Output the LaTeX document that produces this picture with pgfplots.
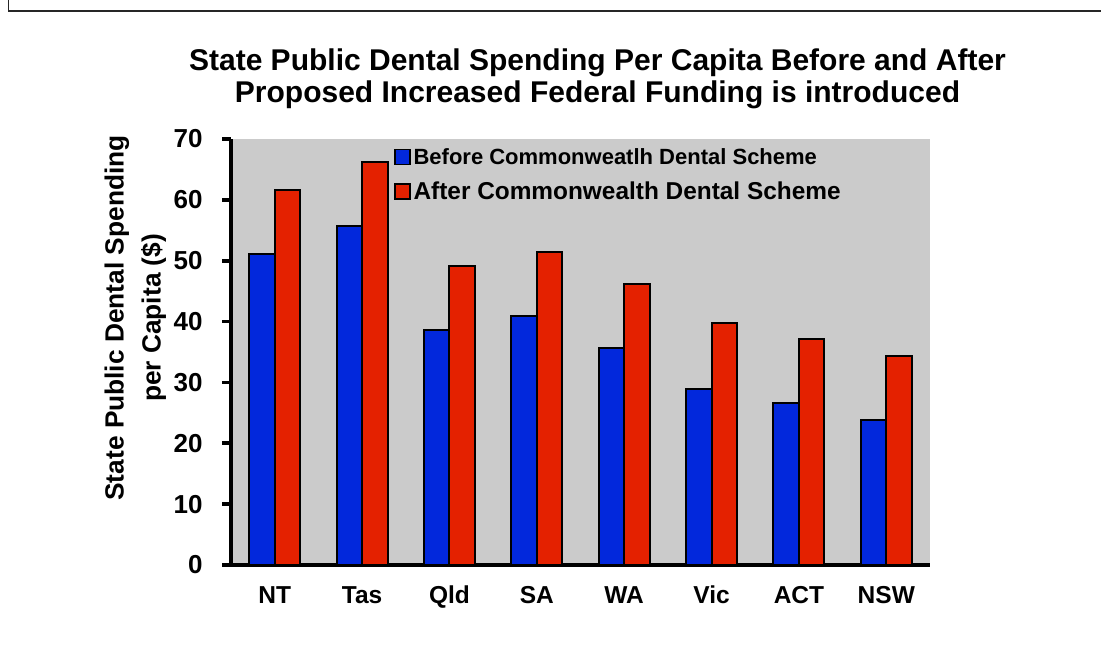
\documentclass[border=0pt]{standalone}
\usepackage{fontspec}
\setmainfont{Liberation Sans}
\usepackage{pgfplots}
\pgfplotsset{compat=1.18}
\definecolor{barblue}{RGB}{2,40,220}
\definecolor{barred}{RGB}{228,33,0}
\definecolor{bggray}{RGB}{203,203,203}
\begin{document}
\begin{tikzpicture}[x=1pt,y=1pt]
\useasboundingbox (0,0) rectangle (1101,657);
\fill[white] (0,0) rectangle (1101,657);
\draw[line width=1.5pt, black!85] (8.5,670) -- (8.5,646) -- (1110,646);
\begin{axis}[
  at={(231pt,92pt)}, anchor=south west,
  scale only axis, width=699pt, height=426pt,
  xmin=-0.5, xmax=7.5, ymin=0, ymax=70,
  axis background/.style={fill=bggray},
  axis x line*=bottom, axis y line*=left,
  axis line style={line width=3.6pt, black},
  ybar=0pt, bar width=25.5pt,
  xtick={0,1,2,3,4,5,6,7},
  xticklabels={NT,Tas,Qld,SA,WA,Vic,ACT,NSW},
  x tick style={draw=none},
  ytick={0,10,20,30,40,50,60,70},
  y tick style={line width=3.6pt, black},
  tick align=outside, major tick length=9pt,
  /pgf/number format/assume math mode=true,
  yticklabel style={font=\fontsize{26}{26}\selectfont\bfseries, xshift=-16pt},
  xticklabel style={font=\fontsize{24.5}{24.5}\selectfont\bfseries, yshift=-19pt, text height=0.72em, text depth=0.22em},
  ylabel={State Public Dental Spending\\per Capita (\$)},
  ylabel style={at={(axis description cs:-0.137,0.58)}, anchor=center, align=center, font=\fontsize{26.3}{37}\selectfont\bfseries},
  title={State Public Dental Spending Per Capita Before and After\\Proposed Increased Federal Funding is introduced},
  title style={at={(axis description cs:0.5243,1)}, anchor=north, yshift=84.5pt, inner sep=0pt, align=center, font=\fontsize{30}{32}\selectfont\bfseries},
  legend image code/.code={\draw[#1,/tikz/.cd,line width=1.5pt] (0pt,-7.5pt) rectangle (15pt,7.5pt);},
  legend style={at={(axis description cs:0.233,0.983)}, anchor=north west, draw=none, fill=none, inner sep=0pt, row sep=12pt, font=\bfseries, /tikz/every even column/.append style={column sep=0pt}, /tikz/every odd column/.append style={column sep=1pt}},
  legend cell align=left,
  clip=false,
]
\addplot[draw=black, line width=2pt, fill=barblue] coordinates {
(0,51.1) (1,55.7) (2,38.6) (3,40.9) (4,35.6) (5,29.0) (6,26.6) (7,23.9)};
\addlegendentry{\fontsize{22}{22}\selectfont Before Commonweatlh Dental Scheme}
\addplot[draw=black, line width=2pt, fill=barred] coordinates {
(0,61.6) (1,66.3) (2,49.1) (3,51.4) (4,46.1) (5,39.7) (6,37.1) (7,34.4)};
\addlegendentry{\fontsize{24.4}{24.4}\selectfont After Commonwealth Dental Scheme}
\end{axis}
\end{tikzpicture}
\end{document}
